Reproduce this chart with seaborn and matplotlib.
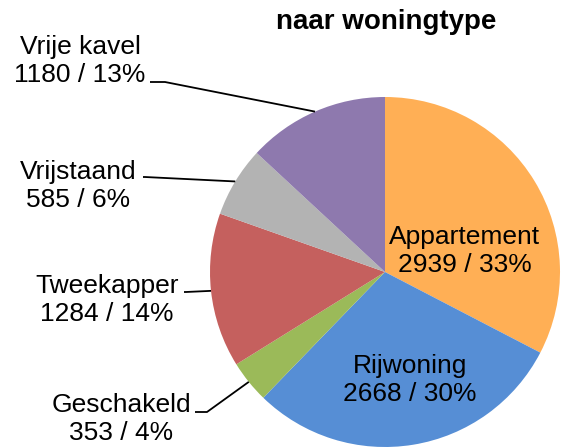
import numpy as np
import matplotlib
matplotlib.use("Agg")
import matplotlib.pyplot as plt
import seaborn as sns

W, H = 561, 447

woningtype = ["Appartement", "Rijwoning", "Geschakeld", "Tweekapper", "Vrijstaand", "Vrije kavel"]
aantal = [2939, 2668, 353, 1284, 585, 1180]
procent = [33, 30, 4, 14, 6, 13]
kleuren = ["#FFAF55", "#568ED5", "#9BBA59", "#C5605E", "#B3B3B3", "#8E79AE"]

sns.set_theme(style="white")
plt.rcParams["font.family"] = ["Liberation Sans", "DejaVu Sans"]

fig = plt.figure(figsize=(W / 100, H / 100), dpi=100)
ax = fig.add_axes([0, 0, 1, 1])

# pie in pixel-like coords, y pointing up
cx, cy, r = 385, H - 272, 175
wedges, _ = ax.pie(aantal, colors=sns.color_palette(kleuren), startangle=90,
                   counterclock=False, center=(cx, cy), radius=r, frame=True,
                   wedgeprops=dict(linewidth=0))
ax.set_xlim(0, W)
ax.set_ylim(0, H)
ax.set_aspect("equal")
ax.axis("off")

labels = [f"{n}\n{a} / {p}%" for n, a, p in zip(woningtype, aantal, procent)]

# label positions (image px): x, y of text centre
binnen = {0: (465, 251), 1: (410, 380)}
buiten = {
    # text centre, leader start, elbow x
    2: ((121, 419), (195, 412), 207),
    3: ((107, 300), (184, 292), 186),
    4: ((78, 186), (143, 177), 145),
    5: ((80, 61), (150, 82), 165),
}

fs = 19
for i, lab in enumerate(labels):
    if i in binnen:
        x, y = binnen[i]
        ax.text(x, H - y, lab, ha="center", va="center", fontsize=fs,
                linespacing=1.25, color="black")
    else:
        (tx, ty), (lx, ly), ex = buiten[i]
        ax.text(tx, H - ty, lab, ha="center", va="center", fontsize=fs,
                linespacing=1.25, color="black")
        w = wedges[i]
        mid = np.deg2rad((w.theta1 + w.theta2) / 2)
        px, py = cx + r * np.cos(mid), cy + r * np.sin(mid)
        ax.plot([lx, ex, px], [H - ly, H - ly, py], color="black", lw=1.3,
                solid_capstyle="butt")

ax.text(386, H - 22, "naar woningtype", ha="center", va="center",
        fontsize=20, fontweight="bold", color="black")

fig.savefig("out.png", dpi=100)
